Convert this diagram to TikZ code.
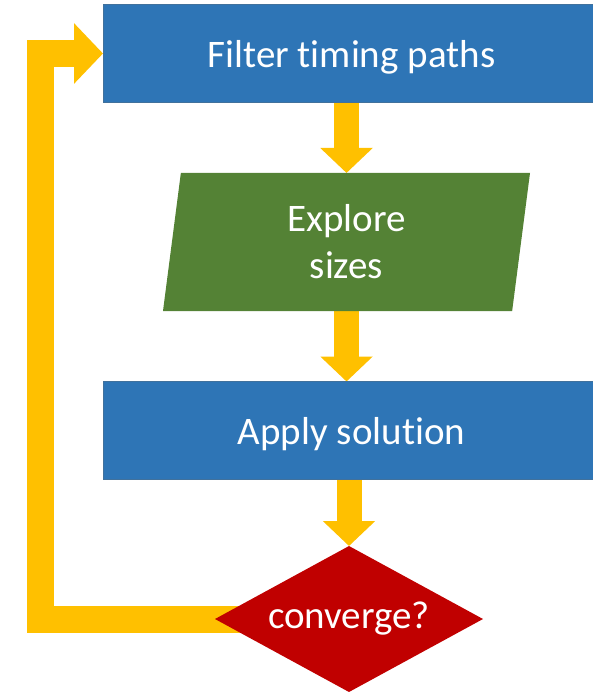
\documentclass[tikz,border=0pt]{standalone}
\usepackage{fontspec}
\setmainfont{Carlito}[Ligatures=NoCommon]
\usetikzlibrary{shapes.geometric,arrows.meta,backgrounds}
\definecolor{boxblue}{HTML}{2E75B6}
\definecolor{blueedge}{HTML}{41719C}
\definecolor{boxgreen}{HTML}{548235}
\definecolor{boxred}{HTML}{C00000}
\definecolor{flowyellow}{HTML}{FFC000}
\begin{document}
\begin{tikzpicture}[x=1pt,y=-1pt,
  every node/.style={text=white, font=\fontsize{39}{47}\selectfont, inner sep=0pt, outer sep=0pt},
  process/.style={rectangle, fill=boxblue, draw=blueedge, line width=0.8pt,
    minimum width=497pt, minimum height=98pt, text depth=0pt},
  io/.style={trapezium, trapezium left angle=76.5, trapezium right angle=103.5,
    trapezium stretches body, fill=boxgreen, minimum width=367pt,
    minimum height=138pt, align=center},
  decision/.style={diamond, aspect=1.836, fill=boxred, minimum width=268pt, minimum height=146pt},
  flow/.style={draw=flowyellow, line width=25pt, -{Triangle[length=25pt,width=51pt]}},
  loopback/.style={draw=flowyellow, line width=27pt, line join=miter,
    -{Triangle[length=29pt,width=59pt]}}
]
\useasboundingbox (0,0) rectangle (593,692);

% flow chart steps
\node[process] (top) at (351.5,53.5) {Filter timing paths};
\node[io] (explore) at (346.5,242) {Explore\\sizes};
\node[process] (apply) at (351.5,430.5) {Apply solution};
\node[decision] (conv) at (349,619) {converge?};
\coordinate (loopx) at (40,53.5);

% block arrows between the steps
\begin{scope}[on background layer]
  \draw[flow] (top.south -| explore.north) -- (explore.north);
  \draw[flow] (explore.south) -- (apply.north -| explore.south);
  \draw[flow] (apply.south -| conv.north) -- (conv.north);
  \draw[loopback] (conv.center) -| (loopx) -- (top.west);
\end{scope}
\end{tikzpicture}
\end{document}
